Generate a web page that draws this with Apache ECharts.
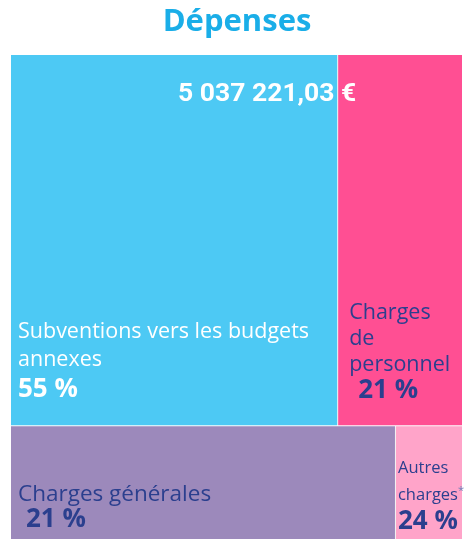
<!DOCTYPE html>
<html>
<head>
<meta charset="utf-8">
<script src="https://cdn.jsdelivr.net/npm/echarts@6/dist/echarts.min.js"></script>
<style>
  html, body { margin: 0; padding: 0; background: #fff; }
  #chart { width: 474px; height: 539px; }
</style>
</head>
<body>
<div id="chart"></div>
<script>
// données
const categories = ['Subventions vers les budgets annexes', 'Charges de personnel', 'Charges générales', 'Autres charges'];
const parts = [55.3, 21.1, 20.1, 3.5];          // part de surface estimée (%)
const pourcentages = ['55 %', '21 %', '21 %', '24 %'];
const rangees = [[0, 1], [2, 3]];              // bloc du haut, bloc du bas
const total = '5 037 221,03 €';

const couleurs = ['#4dc9f4', '#ff4f93', '#9c89bb', '#ffa4c9'];
const texteFonce = '#2b3f8e';
const police = '"Open Sans", sans-serif';

// libellés de chaque case (rich text)
const libelles = [
    '{nom|Subventions vers les budgets}\n{nom|annexes}\n{pct|' + pourcentages[0] + '}',
    '{nom|Charges}\n{nom|de}\n{nom|personnel}\n{pct|' + pourcentages[1] + '}',
    '{nom|Charges générales}\n{pct|' + pourcentages[2] + '}',
    '{petit|Autres}\n{petit|charges}{sup|*}\n{pct|' + pourcentages[3] + '}'
];
const positions = [[7, 263], [11, 245], [7, 55], [2, 28]];
const styles = [
    { nom: { color: '#fff', fontSize: 21.5, lineHeight: 28 }, pct: { color: '#fff', fontSize: 26, fontWeight: 'bold', lineHeight: 32 } },
    { nom: { color: texteFonce, fontSize: 21.5, lineHeight: 26 }, pct: { color: texteFonce, fontSize: 26, fontWeight: 'bold', lineHeight: 26, padding: [0, 0, 0, 9] } },
    { nom: { color: texteFonce, fontSize: 22.5, lineHeight: 26 }, pct: { color: texteFonce, fontSize: 26, fontWeight: 'bold', lineHeight: 25, padding: [0, 0, 0, 8] } },
    { petit: { color: texteFonce, fontSize: 16.5, lineHeight: 27 }, sup: { color: '#6d7fb8', fontSize: 11, lineHeight: 27, padding: [0, 0, 8, 0] }, pct: { color: texteFonce, fontSize: 26, fontWeight: 'bold', lineHeight: 26 } }
];

const donnees = rangees.map((rangee, r) => ({
    name: 'rangee' + r,
    children: rangee.map(i => ({
        name: categories[i],
        value: parts[i],
        itemStyle: { color: couleurs[i] },
        label: {
            show: true,
            position: positions[i],
            padding: 0,
            formatter: libelles[i],
            overflow: 'none',
            fontFamily: police,
            rich: styles[i]
        }
    }))
}));

const chart = echarts.init(document.getElementById('chart'));
chart.setOption({
    textStyle: { fontFamily: police },
    title: [
        {
            text: 'Dépenses',
            left: 'center',
            top: 2,
            textStyle: { color: '#1aaee8', fontSize: 31, fontWeight: 'bold', fontFamily: police }
        },
        {
            text: total,
            left: 173,
            top: 76,
            textStyle: { color: '#fff', fontSize: 26.5, fontWeight: 'bold', fontFamily: 'Roboto, sans-serif' }
        }
    ],
    series: [
        {
            type: 'treemap',
            left: 11,
            top: 55,
            width: 451,
            height: 485,
            roam: false,
            nodeClick: false,
            breadcrumb: { show: false },
            animation: false,
            silent: true,
            levels: [
                { itemStyle: { borderWidth: 0, gapWidth: 1, borderColor: '#fff' } },
                { itemStyle: { borderWidth: 0, gapWidth: 1, borderColor: '#f3f3f3' } },
                { itemStyle: { borderWidth: 0 } }
            ],
            data: donnees
        }
    ]
});
</script>
</body>
</html>
